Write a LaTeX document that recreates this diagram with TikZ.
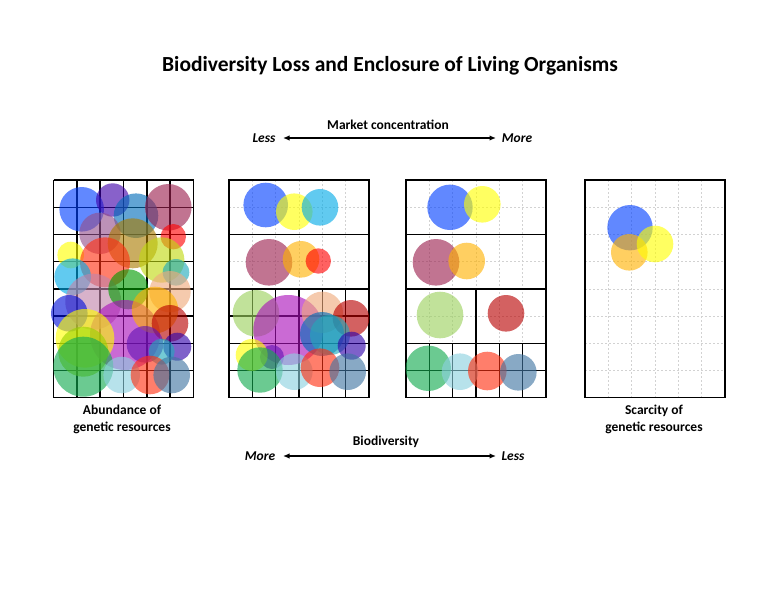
\documentclass[tikz,border=0pt]{standalone}
\usepackage{fontspec}
\setmainfont{Carlito}
\usetikzlibrary{arrows.meta}
\definecolor{cblue}{RGB}{0,63,255}
\definecolor{cyel}{RGB}{255,255,0}
\definecolor{csky}{RGB}{0,170,232}
\definecolor{cmaroon}{RGB}{155,32,78}
\definecolor{corange}{RGB}{255,178,0}
\definecolor{cred}{RGB}{255,0,0}
\definecolor{clgreen}{RGB}{155,209,93}
\definecolor{cmagenta}{RGB}{170,16,186}
\definecolor{cpeach}{RGB}{240,170,124}
\definecolor{ccrimson}{RGB}{185,0,0}
\definecolor{cindigo}{RGB}{47,1,170}
\definecolor{cgreen}{RGB}{17,170,78}
\definecolor{cpowder}{RGB}{140,209,224}
\definecolor{ctomato}{RGB}{255,47,17}
\definecolor{cslate}{RGB}{63,117,163}
\definecolor{csteel}{RGB}{0,109,186}
\definecolor{cpurple}{RGB}{63,1,170}
\definecolor{cmauve}{RGB}{147,78,140}
\definecolor{cochre}{RGB}{170,124,1}
\definecolor{cyg}{RGB}{193,217,16}
\definecolor{cteal}{RGB}{32,170,186}
\definecolor{cpink}{RGB}{193,132,170}
\definecolor{cgreen2}{RGB}{0,155,0}
\definecolor{cblue2}{RGB}{0,16,217}
\definecolor{clime}{RGB}{155,209,0}
\definecolor{cviolet}{RGB}{100,20,180}
\newcommand{\Cc}[4]{\fill[#1,opacity=0.62] (#2,#3) circle[radius=#4pt];}
\newcommand{\sgrid}[3]{%
  \foreach \c in {0,...,6} {\draw[solidln] ({#1+\c*23.333},{180+#2*27.2}) -- ({#1+\c*23.333},{180+#3*27.2});}
  \foreach \r in {#2,...,#3} {\draw[solidln] (#1,{180+\r*27.2}) -- ({#1+140},{180+\r*27.2});}}
\newcommand{\dgrid}[3]{%
  \foreach \c in {1,...,5} {\draw[dashln] ({#1+\c*23.333},{180+#2*27.2}) -- ({#1+\c*23.333},{180+#3*27.2});}
  \foreach \r in {#2,...,#3} {\draw[dashln] (#1,{180+\r*27.2}) -- ({#1+140},{180+\r*27.2});}}
\newcommand{\solidbox}[5]{\draw[solidln] ({#1+#2*23.333},{180+#3*27.2}) rectangle ({#1+#4*23.333},{180+#5*27.2});}
\tikzset{
  solidln/.style={line width=1.4pt,black},
  dashln/.style={line width=0.6pt,gray!35,dash pattern=on 2pt off 2pt},
  lbl/.style={font=\fontsize{13.5}{17}\selectfont\bfseries,align=center,inner sep=0pt},
  endlbl/.style={font=\fontsize{13.5}{15}\selectfont\bfseries\itshape,inner sep=0pt},
  axarrow/.style={line width=1.4pt,{Latex[length=6.5pt,width=5.5pt]}-{Latex[length=6.5pt,width=5.5pt]}}
}
\begin{document}
\begin{tikzpicture}[x=1pt,y=-1pt]
\useasboundingbox[fill=white] (0,0) rectangle (776,600);
% title and axis labels
\node[font=\fontsize{21.5}{25}\selectfont\bfseries,inner sep=0pt] (title) at (390,66) {Biodiversity Loss and Enclosure of Living Organisms};
\node[lbl] (mc) at (388,125) {Market concentration};
\node[endlbl] (mless) at (264,138) {Less};
\node[endlbl] (mmore) at (517,138) {More};
\coordinate (ma) at (283,138);
\coordinate (mb) at (496,138);
\draw[axarrow] (ma) -- (mb);
\node[lbl] (bio) at (386,442) {Biodiversity};
\node[endlbl] (bmore) at (260,456) {More};
\node[endlbl] (bless) at (513,456) {Less};
\coordinate (ba) at (283,456);
\coordinate (bb) at (496,456);
\draw[axarrow] (ba) -- (bb);
\node[lbl] (abund) at (122,419.5) {Abundance of\\genetic resources};
\node[lbl] (scarc) at (654,419.5) {Scarcity of\\genetic resources};
% ---------- panel 1 ----------
\sgrid{53.5}{0}{8}
\Cc{cblue}{81.7}{209.3}{22.3}
\Cc{cpurple}{112.7}{200}{16.7}
\Cc{csteel}{136}{215.7}{22.3}
\Cc{cmaroon}{168.3}{207.3}{23.3}
\Cc{cmauve}{100}{233.3}{20.7}
\Cc{cochre}{132.7}{243.3}{25}
\Cc{cred}{173.3}{236.7}{12.7}
\Cc{cyel}{70.7}{255}{13.3}
\Cc{ctomato}{105}{262.3}{25}
\Cc{cyg}{161.7}{260}{22.7}
\Cc{csky}{72.7}{276.7}{18.3}
\Cc{cteal}{176}{272.3}{13.3}
\Cc{cpink}{93.3}{301.7}{28}
\Cc{cgreen2}{128.3}{289.3}{20}
\Cc{cpeach}{170}{291.7}{20.7}
\Cc{cblue2}{69.3}{313.3}{18.3}
\Cc{cmagenta}{125}{335}{35}
\Cc{corange}{155}{310}{23.3}
\Cc{ccrimson}{170}{323.3}{18.3}
\Cc{cyel}{85}{338.3}{29.3}
\Cc{cviolet}{145}{344.3}{18.3}
\Cc{cindigo}{177.3}{346.7}{14}
\Cc{cteal}{161.7}{351.7}{13}
\Cc{clime}{83.3}{351.7}{25}
\Cc{cgreen}{83.3}{366.7}{30}
\Cc{cpowder}{121.7}{375}{18.3}
\Cc{ctomato}{150}{375}{19.3}
\Cc{cslate}{171.7}{375}{18.3}
% ---------- panel 2 ----------
\dgrid{229}{0}{4}
\solidbox{229}{0}{0}{6}{2}
\solidbox{229}{0}{2}{6}{4}
\sgrid{229}{4}{8}
\Cc{cblue}{265.7}{205}{22.3}
\Cc{cyel}{294.3}{211.7}{18.3}
\Cc{csky}{320}{207.3}{18.3}
\Cc{cmaroon}{269}{262.3}{23.3}
\Cc{corange}{301}{259.3}{18.3}
\Cc{cred}{318.3}{261}{12.7}
\Cc{clgreen}{256}{313.3}{23.3}
\Cc{cmagenta}{288.3}{330}{35}
\Cc{cpeach}{322.3}{312.3}{20.7}
\Cc{ccrimson}{351}{318.3}{18.3}
\Cc{csteel}{322}{334}{22}
\Cc{cteal}{330}{335}{20}
\Cc{cindigo}{351.7}{345.7}{14}
\Cc{cviolet}{272}{357}{12}
\Cc{cyel}{251.7}{355}{16}
\Cc{cgreen}{260}{370}{22.7}
\Cc{cpowder}{294.3}{371.7}{18.3}
\Cc{ctomato}{320}{367.7}{19.3}
\Cc{cslate}{347.7}{371.7}{18.3}
% ---------- panel 3 ----------
\dgrid{406}{0}{6}
\solidbox{406}{0}{0}{6}{2}
\solidbox{406}{0}{2}{6}{4}
\solidbox{406}{0}{4}{3}{6}
\solidbox{406}{3}{4}{6}{6}
\sgrid{406}{6}{8}
\Cc{cblue}{450}{207.3}{22.7}
\Cc{cyel}{482.3}{204.3}{18.3}
\Cc{cmaroon}{436}{262.3}{23.3}
\Cc{corange}{466.7}{261}{18.3}
\Cc{clgreen}{440}{315}{23.3}
\Cc{ccrimson}{506}{313.3}{18.3}
\Cc{cgreen}{428.3}{368.3}{22.7}
\Cc{cpowder}{460}{371.7}{18.3}
\Cc{ctomato}{487.3}{371}{19.3}
\Cc{cslate}{518.3}{372.3}{18.3}
% ---------- panel 4 ----------
\dgrid{585}{0}{8}
\solidbox{585}{0}{0}{6}{8}
\Cc{cblue}{630}{227.7}{22.7}
\Cc{corange}{629.3}{252.3}{18.3}
\Cc{cyel}{655}{244}{18.3}
\end{tikzpicture}
\end{document}
